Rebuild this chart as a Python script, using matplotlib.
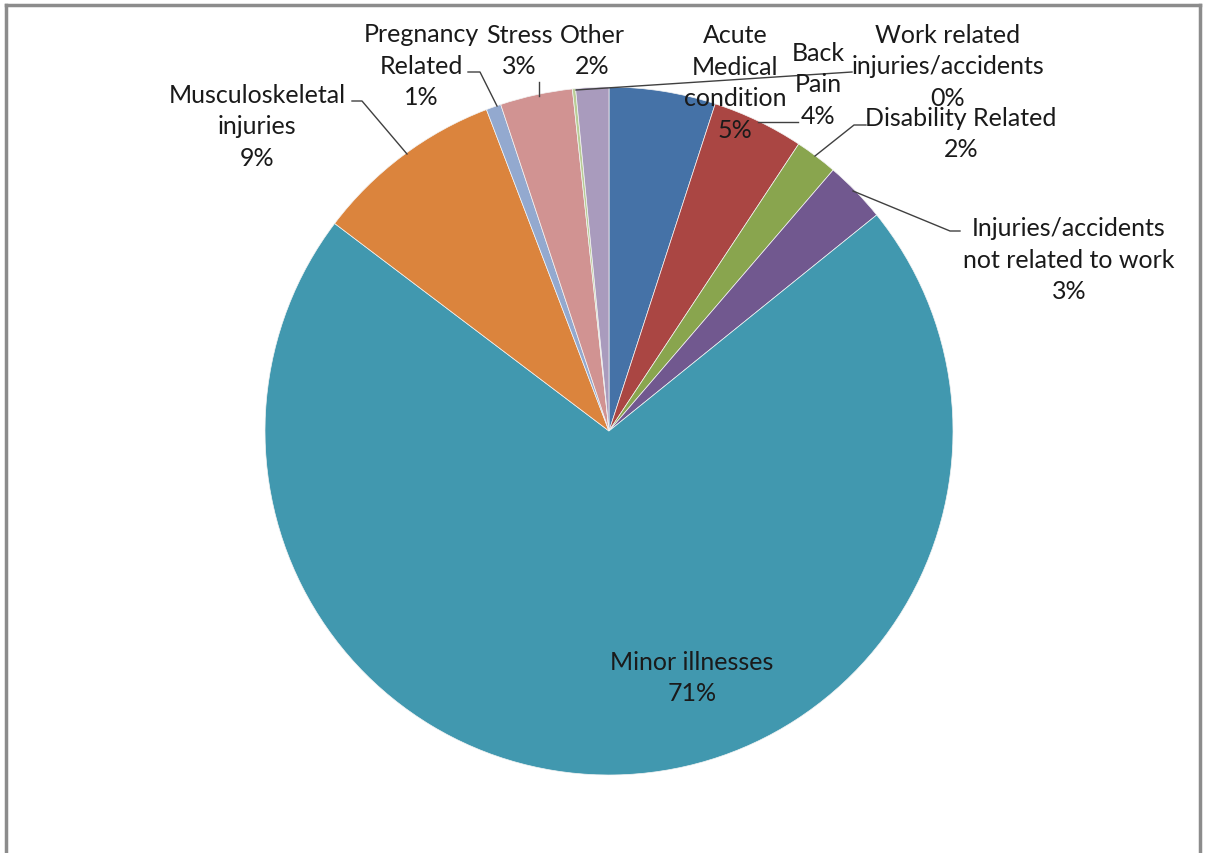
import matplotlib.pyplot as plt
from matplotlib.lines import Line2D

W, H = 1207, 854

# slices, clockwise from 12 o'clock
labels = ['Acute\nMedical\ncondition', 'Back\nPain', 'Disability Related',
          'Injuries/accidents\nnot related to work', 'Minor illnesses',
          'Musculoskeletal\ninjuries', 'Pregnancy\nRelated', 'Stress',
          'Work related\ninjuries/accidents', 'Other']
values = [5.0, 4.3, 2.0, 2.9, 71.15, 8.9, 0.7, 3.4, 0.15, 1.55]
colors = ['#4572A7', '#AA4643', '#89A54E', '#71588F', '#4198AF',
          '#DB843D', '#93A9CF', '#D19392', '#B9CD96', '#A99BBD']

# label block centres in pixel coords (x, y from top)
label_pos = [(735, 83), (818, 85), (961, 134), (1069, 260), (692, 678),
             (257, 127), (421, 66), (519, 51), (948, 67), (592, 51)]

# leader lines, pixel coords
leaders = [
    [(758, 123), (798, 123)],                       # back pain
    [(815, 157), (854, 126), (866, 126)],           # disability
    [(853, 192), (950, 232), (960, 232)],           # injuries
    [(407, 155), (362, 102), (352, 102)],           # musculoskeletal
    [(497, 107), (480, 73), (468, 73)],             # pregnancy
    [(539, 97), (539, 83)],                         # stress
    [(576, 91), (852, 73)],                         # work related
]

plt.rcParams['font.family'] = ['Lato', 'DejaVu Sans']

fig = plt.figure(figsize=(W / 100, H / 100), dpi=100)
ax = fig.add_axes([0, 0, 1, 1])
ax.axis('off')

ax.pie(values, colors=colors, startangle=90, counterclock=False,
       center=(609, H - 432), radius=344,
       wedgeprops=dict(edgecolor='#f4f4f4', linewidth=0.5))
ax.set_xlim(0, W)
ax.set_ylim(0, H)
ax.set_aspect('equal')

total = sum(values)
for lab, v, (x, y) in zip(labels, values, label_pos):
    ax.text(x, H - y, '%s\n%d%%' % (lab, round(v / total * 100)),
            ha='center', va='center', fontsize=18, color='#1a1a1a',
            linespacing=1.45)

for pts in leaders:
    ax.plot([p[0] for p in pts], [H - p[1] for p in pts], color='#404040', lw=1)

# chart border (bottom is cut off in the original)
for xs, ys in [([6, 6], [0, H - 6]), ([6, 1200], [H - 6, H - 6]), ([1200, 1200], [0, H - 6])]:
    ax.add_line(Line2D(xs, ys, color='#8c8c8c', lw=2.5))

fig.savefig('out.png', dpi=100)
